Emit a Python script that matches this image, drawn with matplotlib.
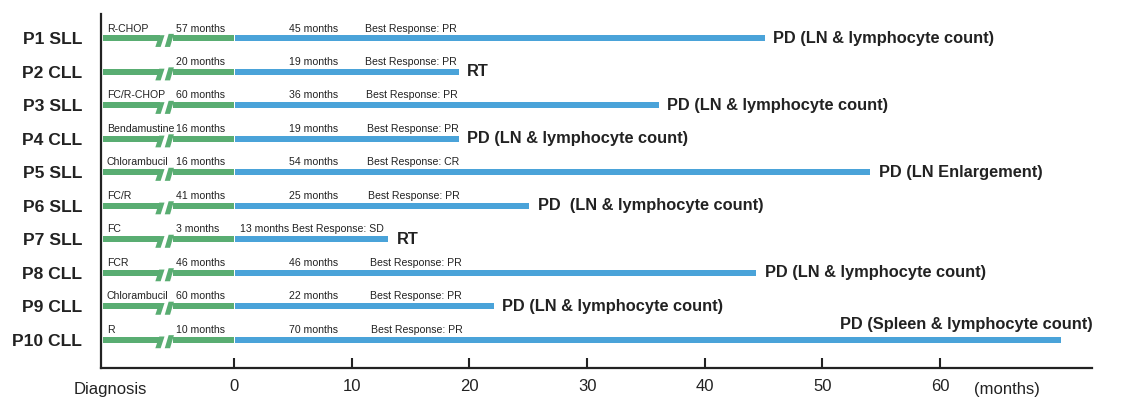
import matplotlib
matplotlib.use("Agg")
import matplotlib.pyplot as plt
from matplotlib.patches import Polygon

plt.rcParams['font.family'] = ['Liberation Sans', 'DejaVu Sans']

patients = ["P1 SLL", "P2 CLL", "P3 SLL", "P4 CLL", "P5 SLL",
            "P6 SLL", "P7 SLL", "P8 CLL", "P9 CLL", "P10 CLL"]
treatments = ["R-CHOP", "", "FC/R-CHOP", "Bendamustine", "Chlorambucil",
              "FC/R", "FC", "FCR", "Chlorambucil", "R"]
pre_months_labels = ["57 months", "20 months", "60 months", "16 months", "16 months",
                     "41 months", "3 months", "46 months", "60 months", "10 months"]
followup_labels = ["45 months", "19 months", "36 months", "19 months", "54 months",
                   "25 months", "13 months", "46 months", "22 months", "70 months"]
best_response = ["PR", "PR", "PR", "PR", "CR", "PR", "SD", "PR", "PR", "PR"]
followup_months = [45, 19, 36, 19, 54, 25, 13, 44.3, 22, 70.2]
outcomes = ["PD (LN & lymphocyte count)", "RT", "PD (LN & lymphocyte count)",
            "PD (LN & lymphocyte count)", "PD (LN Enlargement)",
            "PD  (LN & lymphocyte count)", "RT", "PD (LN & lymphocyte count)",
            "PD (LN & lymphocyte count)", "PD (Spleen & lymphocyte count)"]
xticks = [0, 10, 20, 30, 40, 50, 60]

GREEN = "#59ad72"
BLUE = "#4aa3d9"
TXT = "#222222"

fig = plt.figure(figsize=(11.23, 4.15), dpi=100)
ax = fig.add_axes([0.0899, 0.1133, 0.9724 - 0.0899, 0.966 - 0.1133])

xmin, xmax = -11.3, 72.9
ax.set_xlim(xmin, xmax)
ax.set_ylim(9.85, -0.72)

h = 0.18
brk_l, brk_r = -6.3, -5.2
for i in range(len(patients)):
    y = i
    # pre-treatment (broken) segment
    ax.barh(y, brk_l - (-11.1), left=-11.1, height=h, color=GREEN, lw=0)
    ax.barh(y, 0 - brk_r, left=brk_r, height=h, color=GREEN, lw=0)
    # break slashes
    for x0 in (brk_l - 0.05, brk_r - 0.35):
        top = y - h / 2 - (0.04 if x0 > brk_l else 0)
        bot = y + h / 2 + 0.17
        poly = Polygon([(x0, top), (x0 + 0.45, top), (x0 + 0.12, bot), (x0 - 0.33, bot)],
                       closed=True, color=GREEN, lw=0)
        ax.add_patch(poly)
    # follow-up bar
    ax.barh(y, followup_months[i], left=0.08, height=h, color=BLUE, lw=0)

    ty = y - 0.2
    fs = 7.6
    if treatments[i]:
        ax.text(-10.8, ty, treatments[i], fontsize=fs, va='baseline', ha='left', color=TXT)
    ax.text(-4.9, ty, pre_months_labels[i], fontsize=fs, va='baseline', ha='left', color=TXT)
    if best_response[i] == "SD":
        ax.text(0.5, ty, f"{followup_labels[i]} Best Response: {best_response[i]}",
                fontsize=fs, va='baseline', ha='left', color=TXT)
    else:
        ax.text(4.7, ty, followup_labels[i], fontsize=fs, va='baseline', ha='left', color=TXT)
        ax.text(11.1 + 0.06 * i, ty, f"Best Response: {best_response[i]}",
                fontsize=fs, va='baseline', ha='left', color=TXT)
    if i == len(patients) - 1:
        ax.text(73.0, y - 0.3, outcomes[i], fontsize=11.8, fontweight='bold',
                va='baseline', ha='right', color=TXT)
    else:
        ax.text(followup_months[i] + 0.8, y, outcomes[i], fontsize=11.8, fontweight='bold',
                va='center', ha='left', color=TXT)

ax.set_yticks(range(len(patients)))
ax.set_yticklabels(patients, fontsize=12.6, fontweight='bold', color=TXT)
ax.tick_params(axis='y', length=0, pad=13.5)

ax.set_xticks(xticks)
ax.set_xticklabels([str(t) for t in xticks], fontsize=12, color=TXT)
ax.tick_params(axis='x', direction='in', length=7, width=1.5, pad=8, color=TXT)

ax.text(-10.5, -0.04, "Diagnosis", transform=ax.get_xaxis_transform(), fontsize=12,
        ha='center', va='top', color=TXT)
ax.text(65.7, -0.04, "(months)", transform=ax.get_xaxis_transform(), fontsize=12,
        ha='center', va='top', color=TXT)

for s in ('top', 'right'):
    ax.spines[s].set_visible(False)
for s in ('left', 'bottom'):
    ax.spines[s].set_linewidth(1.6)
    ax.spines[s].set_color(TXT)

fig.savefig("out.png", dpi=100)
